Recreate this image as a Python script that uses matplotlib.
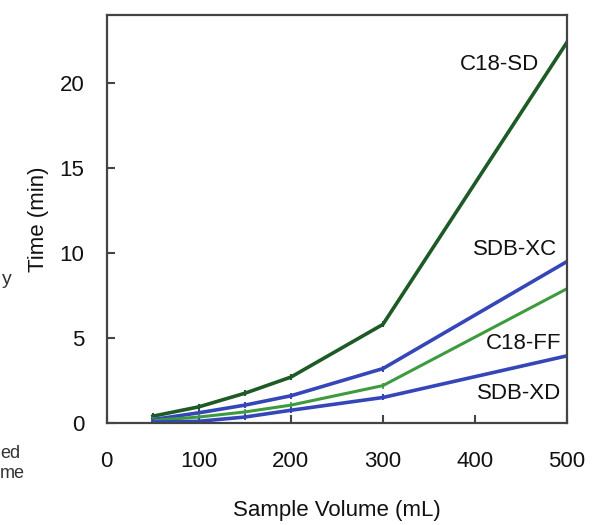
import matplotlib.pyplot as plt

plt.rcParams['font.family'] = ['Liberation Sans', 'DejaVu Sans']

# sample volume (mL)
volume = [50, 100, 150, 200, 300, 500]

# time (min) for each cartridge
c18_sd = [0.4, 0.95, 1.75, 2.7, 5.8, 22.4]
sdb_xc = [0.2, 0.6, 1.05, 1.6, 3.2, 9.5]
c18_ff = [0.15, 0.35, 0.65, 1.05, 2.2, 7.9]
sdb_xd = [0.05, 0.1, 0.35, 0.75, 1.5, 3.95]

series_names = ['C18-SD', 'SDB-XC', 'C18-FF', 'SDB-XD']
x_ticks = [0, 100, 200, 300, 400, 500]
y_ticks = [0, 5, 10, 15, 20]

fig = plt.figure(figsize=(6, 5.25), dpi=100)
ax = fig.add_axes([0.178, 0.1943, 0.767, 0.7771])

dark_green = '#1d5a26'
blue = '#3546b8'
green = '#3e9a3e'
txt = '#111111'

ax.plot(volume, c18_sd, color=dark_green, lw=2.6, marker='|', ms=5, mew=1.5)
ax.plot(volume, sdb_xc, color=blue, lw=2.6, marker='|', ms=5, mew=1.5)
ax.plot(volume, c18_ff, color=green, lw=2.2, marker='|', ms=4, mew=1.2)
ax.plot(volume, sdb_xd, color=blue, lw=2.6, marker='|', ms=5, mew=1.5)

label_pos = [(470, 21.1), (489, 10.2), (494, 4.7), (494, 1.75)]
for name, (lx, ly) in zip(series_names, label_pos):
    ax.text(lx, ly, name, ha='right', va='center', fontsize=16, color=txt)

ax.set_xlim(0, 500)
ax.set_ylim(0, 24)
ax.set_xticks(x_ticks)
ax.set_yticks(y_ticks)
ax.tick_params(direction='in', length=6, width=1.5, color='#444444',
               labelsize=16, labelcolor=txt)
ax.tick_params(axis='y', pad=16)
ax.tick_params(axis='x', pad=20)
for sp in ax.spines.values():
    sp.set_color('#444444')
    sp.set_linewidth(1.6)

ax.set_xlabel('Sample Volume (mL)', fontsize=16, color=txt, labelpad=20)
ax.set_ylabel('Time (min)', fontsize=16, color=txt, labelpad=8)

# fragments of neighbouring text at the left edge
fig.text(2 / 600, 1 - 280 / 525, 'y', ha='left', va='center', fontsize=14, color='#333333')
fig.text(0, 1 - 453 / 525, 'ed', ha='left', va='center', fontsize=13, color='#333333')
fig.text(0, 1 - 474 / 525, 'me', ha='left', va='center', fontsize=13, color='#333333')

fig.savefig('out.png', dpi=100)
